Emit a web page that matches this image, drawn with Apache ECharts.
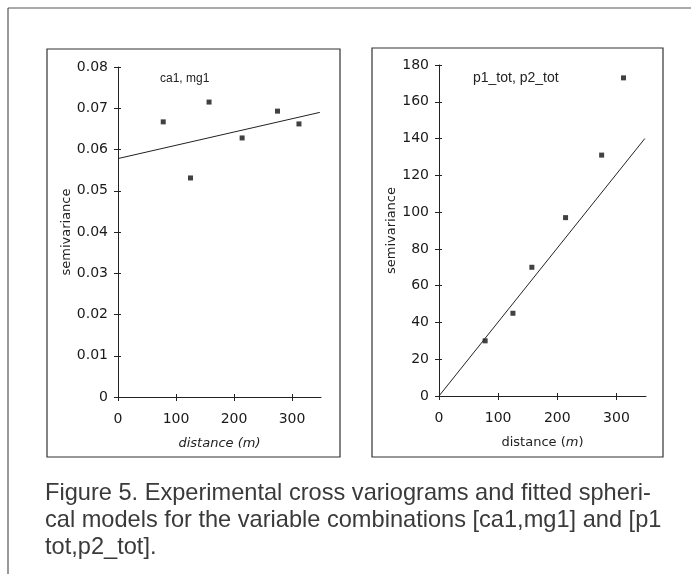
<!DOCTYPE html>
<html>
<head>
<meta charset="utf-8">
<script src="https://cdn.jsdelivr.net/npm/echarts@6/dist/echarts.min.js"></script>
<style>
  html, body {margin: 0; padding: 0; background: #fff;}
  #main {width: 691px; height: 574px;}
</style>
</head>
<body>
<div id="main"></div>
<script>
// lag distances (m), shared by both panels
const lags = [78, 125, 157, 214, 275, 312]
// experimental cross semivariances
const caMg = [0.0667, 0.0531, 0.0715, 0.0628, 0.0693, 0.0662]
const pTot = [30, 45, 70, 97, 131, 173]
// fitted model end points [distance, semivariance]
const caMgFit = [[0, 0.0578], [348, 0.0690]]
const pTotFit = [[0, 0], [348, 140]]
const xTicks = [0, 100, 200, 300]
const panelNames = ['ca1, mg1', 'p1_tot, p2_tot']
const caption = [
  'Figure 5. Experimental cross variograms and fitted spheri-',
  'cal models for the variable combinations [ca1,mg1] and [p1',
  'tot,p2_tot].'
]

const tickFont = {fontFamily: 'DejaVu Sans', fontSize: 14, color: '#1a1a1a'}
const ink = '#222'
const nameFont = {fontFamily: 'DejaVu Sans', fontSize: 13, color: ink}

// grids 0,1 = panels; grids 2,3 = same boxes, only used for the inner half of the crossing ticks
const boxes = [
  {left: 118, top: 67, width: 203, height: 330},
  {left: 439, top: 65, width: 207, height: 331}
]

function xAxis(gridIndex, name, inner) {
  const a = {
    type: 'value', gridIndex, min: 0, max: 350, position: 'bottom',
    splitLine: {show: false},
    axisLine: {show: !inner, lineStyle: {color: ink, width: 1}},
    axisTick: {customValues: xTicks, inside: inner, length: inner ? 3 : 4, lineStyle: {color: ink}},
    axisLabel: inner ? {show: false} : Object.assign({customValues: xTicks, margin: 15}, tickFont)
  }
  if (name) {
    Object.assign(a, {
      name, nameLocation: 'middle', nameGap: 40,
      nameTextStyle: Object.assign({rich: {n: nameFont, i: Object.assign({fontStyle: 'italic'}, nameFont)}}, nameFont)
    })
  }
  return a
}

function yAxis(gridIndex, max, interval, gap, inner) {
  const a = {
    type: 'value', gridIndex, min: 0, max, interval, position: 'left',
    splitLine: {show: false},
    axisLine: {show: !inner, lineStyle: {color: ink, width: 1}},
    axisTick: {show: true, inside: inner, length: inner ? 3 : 4, lineStyle: {color: ink}},
    axisLabel: inner ? {show: false} : Object.assign({margin: 10}, tickFont)
  }
  if (!inner) {
    Object.assign(a, {name: 'semivariance', nameLocation: 'middle', nameGap: gap, nameTextStyle: nameFont})
  }
  return a
}

const myChart = echarts.init(document.getElementById('main'))

const pts = (ys) => lags.map((x, i) => [x, ys[i]])
const dot = {type: 'scatter', symbol: 'rect', symbolSize: 5, itemStyle: {color: '#111'}, silent: true}
const fit = {type: 'line', showSymbol: false, lineStyle: {color: ink, width: 1}, silent: true}

myChart.setOption({
  animation: false,
  backgroundColor: '#fff',
  grid: [...boxes, ...boxes],
  xAxis: [
    xAxis(0, '{i|distance (m)}', false),
    xAxis(1, '{n|distance (}{i|m}{n|)}', false),
    xAxis(2, null, true),
    xAxis(3, null, true)
  ],
  yAxis: [
    yAxis(0, 0.08, 0.01, 44, false),
    yAxis(1, 180, 20, 40, false),
    yAxis(2, 0.08, 0.01, 0, true),
    yAxis(3, 180, 20, 0, true)
  ],
  series: [
    Object.assign({}, dot, {xAxisIndex: 0, yAxisIndex: 0, data: pts(caMg)}),
    Object.assign({}, fit, {xAxisIndex: 0, yAxisIndex: 0, data: caMgFit}),
    Object.assign({}, dot, {xAxisIndex: 1, yAxisIndex: 1, data: pts(pTot)}),
    Object.assign({}, fit, {xAxisIndex: 1, yAxisIndex: 1, data: pTotFit}),
    // empty series so the tick-only grids get laid out
    {type: 'line', xAxisIndex: 2, yAxisIndex: 2, data: [], silent: true},
    {type: 'line', xAxisIndex: 3, yAxisIndex: 3, data: [], silent: true}
  ],
  graphic: [
    // outer frame
    {type: 'line', shape: {x1: 8, y1: 8, x2: 691, y2: 8}, style: {stroke: '#555', lineWidth: 1.2}},
    {type: 'line', shape: {x1: 8, y1: 8, x2: 8, y2: 574}, style: {stroke: '#555', lineWidth: 1.2}},
    // panel boxes
    {type: 'rect', shape: {x: 47, y: 49, width: 293, height: 408}, style: {fill: null, stroke: '#333', lineWidth: 1.2}},
    {type: 'rect', shape: {x: 372, y: 48, width: 291, height: 409}, style: {fill: null, stroke: '#333', lineWidth: 1.2}},
    {type: 'text', left: 160, top: 73, style: {text: panelNames[0], font: '12px "Liberation Sans"', fill: ink}},
    {type: 'text', left: 473, top: 71, style: {text: panelNames[1], font: '14px "Liberation Sans"', fill: ink}},
    {type: 'text', left: 45, top: 480, style: {
      text: caption.join('\n'), font: '23.6px "Liberation Sans"', fill: '#3a3a3a', lineHeight: 27
    }}
  ]
})
</script>
</body>
</html>
